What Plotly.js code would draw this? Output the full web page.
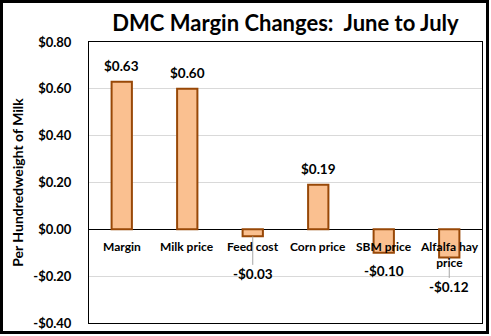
<!DOCTYPE html>
<html>
<head>
<meta charset="utf-8">
<script src="https://cdn.plot.ly/plotly-3.0.1.min.js"></script>
<style>
  html, body { margin: 0; padding: 0; background: #fff; }
  #wrap { position: relative; width: 491px; height: 336px; }
  #chart { position: absolute; left: 0; top: 0; width: 491px; height: 336px; }
  #frame { position: absolute; left: 0; top: 0; width: 489px; height: 334px; box-sizing: border-box; border: 3px solid #000; pointer-events: none; }
</style>
</head>
<body>
<div id="wrap"><div id="chart"></div><div id="frame"></div></div>
<script>
// ---- data ----
const categories = ['Margin', 'Milk price', 'Feed cost', 'Corn price', 'SBM price', 'Alfalfa hay price'];
const categoryLabels = ['Margin', 'Milk price', 'Feed cost', 'Corn price', 'SBM price', 'Alfalfa hay<br>price'];
const changes = [0.63, 0.60, -0.03, 0.19, -0.10, -0.12];
const valueLabels = ['$0.63', '$0.60', '-$0.03', '$0.19', '-$0.10', '-$0.12'];
const yTickVals = [-0.4, -0.2, 0, 0.2, 0.4, 0.6, 0.8];
const yTickText = ['-$0.40', '-$0.20', '$0.00', '$0.20', '$0.40', '$0.60', '$0.80'];
const yTitle = 'Per Hundredweight of Milk';

// ---- style ----
const FONT = 'Lato, "Open Sans", sans-serif';
const labelOffset = [16, 16, 38, 16, 18, 30];   // px from bar end to label centre
const labelLeader = [false, false, true, false, false, true];
const LABEL_FONT = { family: FONT, size: 13.5, color: '#000', weight: 700 };

const annotations = [];
categories.forEach((c, i) => {
  const v = changes[i];
  if (v >= 0) {
    annotations.push({
      x: c, y: v, xref: 'x', yref: 'y', text: valueLabels[i], showarrow: false,
      yanchor: 'middle', yshift: labelOffset[i], font: LABEL_FONT
    });
  } else if (labelLeader[i]) {
    annotations.push({
      x: c, y: v, xref: 'x', yref: 'y', text: valueLabels[i], showarrow: true,
      ax: 0, ay: labelOffset[i], arrowhead: 0, arrowwidth: 1, arrowcolor: '#a6a6a6', standoff: 0,
      font: LABEL_FONT
    });
  } else {
    annotations.push({
      x: c, y: v, xref: 'x', yref: 'y', text: valueLabels[i], showarrow: false,
      yanchor: 'middle', yshift: -labelOffset[i], font: LABEL_FONT
    });
  }
});
categories.forEach((c, i) => {
  annotations.push({
    x: c, y: 0, xref: 'x', yref: 'y', text: categoryLabels[i], showarrow: false,
    yanchor: 'top', yshift: -8,
    font: { family: FONT, size: 12, color: '#000', weight: 700 }
  });
});

const trace = {
  type: 'bar', x: categories, y: changes,
  marker: { color: '#FAC090', line: { color: '#984807', width: 2 } },
  hoverinfo: 'none'
};

const layout = {
  width: 491, height: 336,
  margin: { l: 89, r: 9, t: 42, b: 13 },
  paper_bgcolor: 'rgba(0,0,0,0)', plot_bgcolor: '#fff',
  showlegend: false,
  bargap: 0.69,
  title: {
    text: 'DMC Margin Changes:  June to July',
    font: { family: FONT, size: 22, color: '#000', weight: 700 },
    x: 0.5, xref: 'paper', xanchor: 'center', y: 0.93, yref: 'container', yanchor: 'middle'
  },
  xaxis: {
    showticklabels: false, ticks: '', showgrid: false, zeroline: false,
    showline: true, mirror: true, linecolor: '#000', linewidth: 1, fixedrange: true
  },
  yaxis: {
    range: [-0.4, 0.8], tickvals: yTickVals, ticktext: yTickText, ticks: '',
    ticklabelstandoff: 14,
    tickfont: { family: FONT, size: 13, color: '#000', weight: 700 },
    showgrid: true, gridcolor: '#d9d9d9', gridwidth: 1,
    zeroline: true, zerolinecolor: '#000', zerolinewidth: 1,
    showline: true, mirror: true, linecolor: '#000', linewidth: 1,
    title: { text: '<b>' + yTitle + '</b>', standoff: 6,
             font: { family: FONT, size: 14, color: '#000', weight: 700 } },
    automargin: false, fixedrange: true
  },
  annotations: annotations
};

Plotly.newPlot('chart', [trace], layout, { displayModeBar: false, staticPlot: true });
</script>
</body>
</html>
